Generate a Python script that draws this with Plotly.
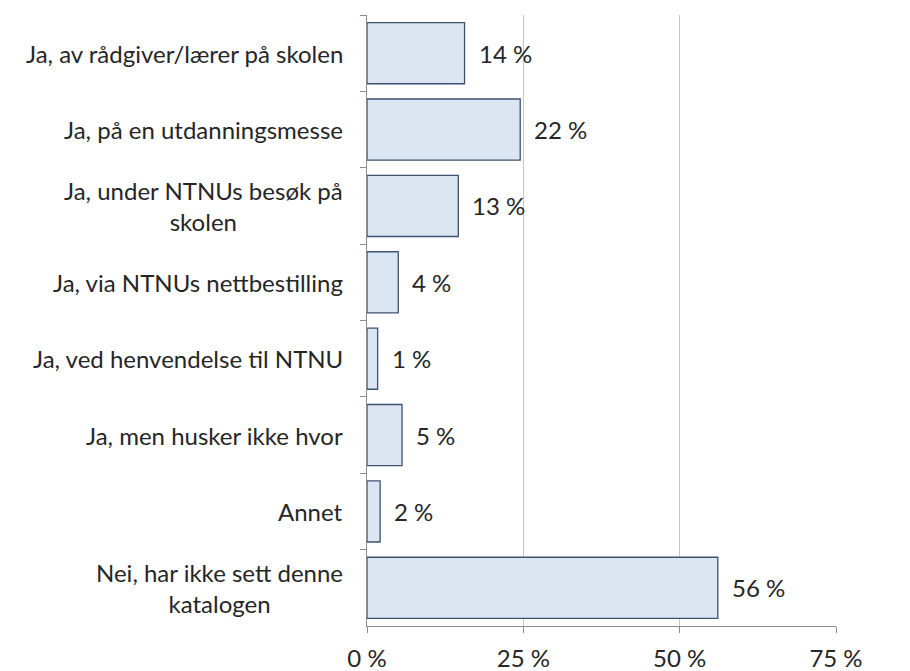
import plotly.graph_objects as go

categories = [
    "Ja, av rådgiver/lærer på skolen",
    "Ja, på en utdanningsmesse",
    "Ja, under NTNUs besøk på<br>skolen",
    "Ja, via NTNUs nettbestilling",
    "Ja, ved henvendelse til NTNU",
    "Ja, men husker ikke hvor",
    "Annet",
    "Nei, har ikke sett denne<br>katalogen",
]
# bar lengths as drawn in the picture (percent)
values = [15.6, 24.5, 14.6, 5.0, 1.7, 5.6, 2.1, 56.1]
# printed data labels
value_labels = ["14 %", "22 %", "13 %", "4 %", "1 %", "5 %", "2 %", "56 %"]
x_ticks = [0, 25, 50, 75]
x_tick_labels = ["0 %", "25 %", "50 %", "75 %"]

FONT = "Lato"
TXT = "#262626"
FS = 24

fig = go.Figure()
fig.add_trace(go.Bar(
    x=values,
    y=categories,
    orientation="h",
    marker=dict(color="#dce6f2", line=dict(color="#3d5270", width=1.3)),
    hoverinfo="skip",
))

annotations = []
for c, v, lab in zip(categories, values, value_labels):
    annotations.append(dict(
        x=v, y=c, xref="x", yref="y", text=lab, showarrow=False,
        xanchor="left", yanchor="middle", xshift=12,
        font=dict(family=FONT, size=FS, color=TXT),
    ))
    annotations.append(dict(
        x=0, y=c, xref="paper", yref="y", text=c, showarrow=False,
        xanchor="right", yanchor="middle", xshift=-22, align="center",
        font=dict(family=FONT, size=FS, color=TXT),
    ))

fig.update_layout(
    width=902, height=663,
    margin=dict(l=359, r=74, t=7, b=45),
    paper_bgcolor="white", plot_bgcolor="white",
    bargap=0.2,
    showlegend=False,
    annotations=annotations,
    font=dict(family=FONT, size=FS, color=TXT),
)
fig.update_xaxes(
    range=[0, 75], tickvals=x_ticks, ticktext=x_tick_labels,
    showgrid=True, gridcolor="#c6c6c6", gridwidth=1,
    showline=True, linecolor="#8c8c8c", linewidth=1.3,
    ticks="outside", ticklen=6, tickcolor="#8c8c8c",
    zeroline=False, fixedrange=True, automargin=False,
    ticklabelstandoff=5,
    tickfont=dict(family=FONT, size=FS, color=TXT),
)
fig.update_yaxes(
    autorange="reversed", type="category",
    showticklabels=False, tickson="boundaries",
    ticks="outside", ticklen=6, tickcolor="#8c8c8c",
    showline=True, linecolor="#8c8c8c", linewidth=1.3,
    showgrid=False, fixedrange=True, automargin=False,
)

fig.write_html("out.html")
